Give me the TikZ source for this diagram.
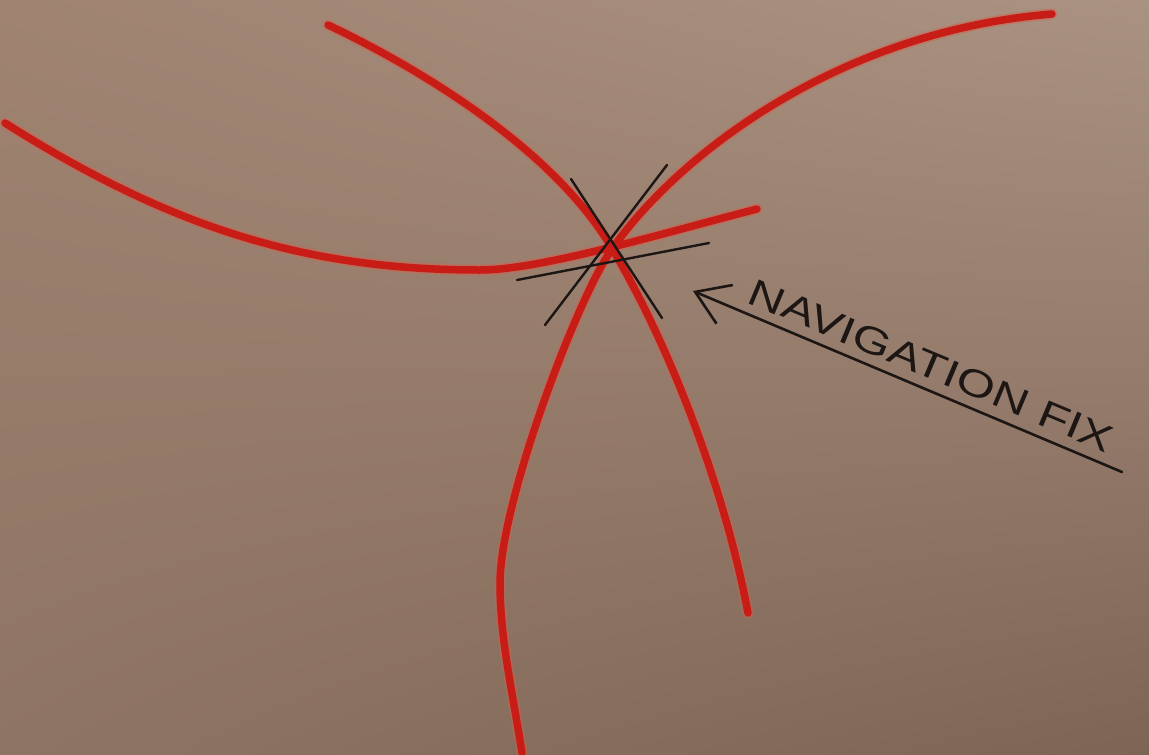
\documentclass[tikz,border=0pt]{standalone}
\usepackage{fontspec}
\setmainfont{Liberation Sans}
\newfontfamily\handfont[FakeStretch=1.31]{Liberation Sans}
\usetikzlibrary{arrows.meta,shadings}
\definecolor{bgTL}{RGB}{160,131,113}
\definecolor{bgTR}{RGB}{170,146,130}
\definecolor{bgBL}{RGB}{142,116,99}
\definecolor{bgBR}{RGB}{126,100,84}
\definecolor{penred}{RGB}{200,28,22}
\definecolor{penglow}{RGB}{215,95,75}
\definecolor{ink}{RGB}{28,22,20}
\tikzset{
  arcglow/.style={draw=penglow, line width=11pt, line cap=round, opacity=0.45},
  arcline/.style={draw=penred, line width=7.5pt, line cap=round},
  fixline/.style={draw=ink, line width=2.4pt, line cap=round},
  pointer/.style={draw=ink, line width=2.6pt, line cap=round,
    -{Straight Barb[length=32pt,width=42pt,line width=2.6pt]}},
  label/.style={text=ink, font=\handfont\fontsize{38}{38}\selectfont,
    inner sep=0pt, anchor=south, rotate=-22.7}
}
\begin{document}
\begin{tikzpicture}[x=1pt,y=-1pt]
\useasboundingbox (0,0) rectangle (1149,755);
\shade[upper left=bgTL, upper right=bgTR, lower left=bgBL, lower right=bgBR] (0,0) rectangle (1149,755);
% red position arcs
\def\arcA{(5,123) .. controls (174,230) and (310,270) .. (480,270)
          .. controls (540,270) and (660,234) .. (757,209)}
\def\arcB{(328,25) .. controls (427,72) and (553,151) .. (610,245)
          .. controls (672,348) and (726,495) .. (748,613)}
\def\arcC{(1052,14) .. controls (832,32) and (672,161) .. (610,252)
          .. controls (576,302) and (500,503) .. (500,583)
          .. controls (500,640) and (513,694) .. (522,753)}
\foreach \c in {\arcA,\arcB,\arcC}{
  \path[arcglow] \c;
}
\foreach \c in {\arcA,\arcB,\arcC}{
  \path[arcline] \c;
}
% fix lines
\coordinate (l1a) at (571,179); \coordinate (l1b) at (662,318);
\coordinate (l2a) at (667,165); \coordinate (l2b) at (545,325);
\coordinate (l3a) at (517,280); \coordinate (l3b) at (709,243);
\draw[fixline] (l1a) -- (l1b);
\draw[fixline] (l2a) -- (l2b);
\draw[fixline] (l3a) -- (l3b);
% pointer and label
\coordinate (tail) at (1122,472);
\coordinate (tip) at (693,291);
\draw[pointer] (tail) -- (tip);
\node[label] (lbl) at (926,378) {NAVIGATION FIX};
\end{tikzpicture}
\end{document}
